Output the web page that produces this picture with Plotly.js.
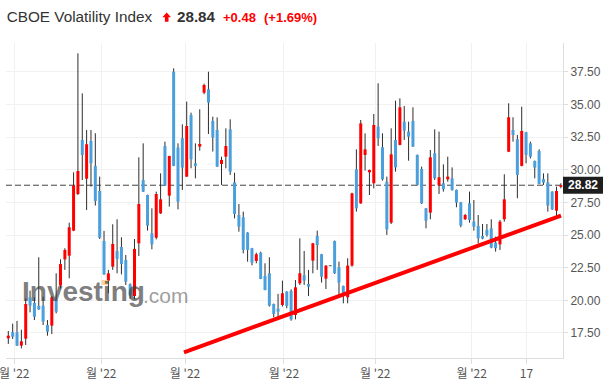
<!DOCTYPE html>
<html><head><meta charset="utf-8">
<script src="https://cdn.plot.ly/plotly-3.0.1.min.js"></script>
<style>html,body{margin:0;padding:0;background:#fff;}#chart{width:615px;height:389px;}</style>
</head><body><div id="chart"></div>
<script>
const openP = [17.09,17.55,17.55,16.53,17.06,20.23,19.80,19.57,19.59,18.11,
 18.06,20.08,21.13,23.14,23.42,25.34,28.15,32.29,29.32,32.21,
 30.30,28.38,24.55,21.51,22.58,23.78,24.09,23.09,21.23,20.33,
 24.37,29.22,28.07,25.14,24.80,26.67,31.83,28.02,37.52,31.70,
 32.42,29.48,34.20,30.50,31.78,35.91,36.17,33.75,33.05,30.45,
 31.01,33.10,29.04,26.54,26.36,25.19,23.99,23.02,23.65,21.87,
 22.07,19.72,19.36,19.64,20.67,20.72,18.88,21.30,21.92,21.25,
 23.04,24.93,23.53,21.66,22.66,24.55,22.53,21.10,20.23,22.66,
 30.04,27.43,31.14,29.81,28.97,33.31,31.73,29.09,25.95,32.29,
 31.91,33.69,32.93,33.75,31.14,30.07,27.05,26.72,31.27,28.81,
 28.97,29.27,29.35,28.46,27.51,26.21,27.43,26.03,25.70,24.93,
 25.39,25.52,24.42,24.29,26.21,31.39,33.05,32.34,30.30,32.88,
 32.03,30.68,31.44,29.30,29.04,28.33,26.87,28.69];
const highP = [17.65,18.21,18.42,17.75,20.15,20.74,20.23,23.30,20.28,18.49,
 20.33,22.07,23.14,23.99,25.95,29.81,38.93,35.86,33.05,33.05,
 32.80,29.48,25.32,22.33,25.83,26.21,24.83,23.47,21.30,24.70,
 30.96,32.03,28.10,27.05,28.33,29.73,32.16,31.08,37.78,32.03,
 33.49,35.23,34.38,32.03,34.64,36.60,37.52,34.07,34.02,31.01,
 33.18,33.87,29.78,27.38,26.80,25.22,24.02,23.65,23.73,22.84,
 23.30,19.75,20.49,21.51,20.70,20.85,21.56,24.75,23.78,22.33,
 24.40,25.34,23.56,22.69,22.70,24.58,22.96,21.13,23.22,28.25,
 31.57,33.82,32.80,30.02,34.28,36.63,32.80,29.48,33.18,35.30,
 35.48,34.89,33.69,34.79,31.17,30.25,27.08,31.52,33.10,32.93,
 30.42,31.01,30.19,28.49,27.54,26.62,28.33,27.69,26.54,25.85,
 25.85,26.21,24.88,26.16,29.66,35.10,34.03,32.67,34.84,32.91,
 32.16,30.71,31.57,29.73,29.73,28.36,28.71,28.97];
const lowP = [16.66,17.04,16.50,16.32,16.58,19.08,18.49,19.26,18.11,17.29,
 17.42,19.00,20.90,22.33,21.69,25.30,28.07,29.22,26.92,28.71,
 27.26,24.70,21.95,20.54,22.33,22.07,21.99,21.18,20.10,20.08,
 23.40,28.30,25.34,23.91,24.67,26.62,28.76,27.18,30.28,26.97,
 28.46,29.45,30.12,29.35,31.47,35.80,32.75,31.40,30.22,28.84,
 30.12,29.61,26.28,25.26,23.60,22.96,22.68,22.84,21.62,20.77,
 19.52,18.70,18.75,19.52,19.39,18.44,18.54,21.18,21.18,20.33,
 22.07,22.33,21.36,20.87,22.62,22.02,20.41,19.77,19.77,22.58,
 26.80,27.40,29.94,28.07,28.58,31.83,29.17,25.01,25.85,29.86,
 31.88,32.29,30.70,31.75,28.79,27.38,25.52,26.21,29.22,28.15,
 28.33,29.09,28.40,27.13,25.60,26.16,25.95,25.34,24.37,24.68,
 24.88,23.99,23.73,23.86,26.03,31.36,32.16,27.82,30.27,30.50,
 30.88,29.35,28.90,28.84,26.80,26.92,26.46,28.58];
const closeP = [17.29,17.22,16.53,16.86,19.72,19.59,18.75,19.31,18.37,17.60,
 20.23,19.13,22.78,23.86,25.60,28.81,29.91,31.14,31.96,30.50,
 27.61,24.80,21.99,22.07,24.32,23.17,22.79,21.43,20.38,23.94,
 27.38,28.33,25.72,24.29,28.15,27.74,28.79,31.06,30.30,27.56,
 30.17,33.36,30.81,30.30,31.98,36.50,35.15,32.47,30.25,30.76,
 31.83,29.86,26.62,25.65,23.86,23.86,22.89,23.53,21.64,20.79,
 19.59,18.95,19.13,20.54,19.57,18.54,21.00,22.07,21.51,21.05,
 24.37,24.24,21.81,22.66,22.66,22.07,21.36,20.54,22.66,28.20,
 27.05,33.56,31.57,29.99,33.44,32.42,29.27,25.44,31.19,30.19,
 34.79,33.00,32.54,31.78,28.84,27.43,26.11,30.96,29.35,29.43,
 28.51,29.48,28.46,27.49,25.72,26.54,26.16,25.65,24.75,24.73,
 25.01,24.04,23.99,26.03,27.74,34.03,32.67,29.61,32.98,31.14,
 31.01,30.17,28.92,29.02,27.26,26.97,28.38,28.82];
const xTickPositions = [1.38, 21.37, 40.61, 63.36, 84.35, 106.5, 119.1];
const xTickLabels = ["월 '22", "월 '22", "월 '22", "월 '22", "월 '22", "월 '22", "17"];
const trendX = [40.38, 127.03];
const trendY = [16.02, 26.49];
const headerName = 'CBOE Volatility Index';
const headerLast = '28.84';
const headerChange = '+0.48';
const headerPct = '(+1.69%)';

const UP = '#ff0000', DOWN = '#4a9fdc', WICK = '#2d2d2d';
const n = closeP.length;
const wx = [], wy = [], upX = [], upY = [], dnX = [], dnY = [], flX = [], flY = [];
for (let i = 0; i < n; i++) {
  wx.push(i, i, null); wy.push(lowP[i], highP[i], null);
  const o = openP[i], c = closeP[i];
  if (c > o) { upX.push(i, i, null); upY.push(o, c, null); }
  else if (c < o) { dnX.push(i, i, null); dnY.push(c, o, null); }
  else { flX.push(i, i, null); flY.push(o - 0.04, o + 0.04, null); }
}
const lastClose = closeP[n - 1];

const traces = [
  {type:'scatter', mode:'lines', x:wx, y:wy, line:{color:WICK, width:1}, hoverinfo:'skip'},
  {type:'scatter', mode:'lines', x:upX, y:upY, line:{color:UP, width:3}, hoverinfo:'skip'},
  {type:'scatter', mode:'lines', x:dnX, y:dnY, line:{color:DOWN, width:3}, hoverinfo:'skip'},
  {type:'scatter', mode:'lines', x:flX, y:flY, line:{color:'#777', width:3}, hoverinfo:'skip'},
  {type:'scatter', mode:'lines', x:trendX, y:trendY, line:{color:'#ff0000', width:4}, hoverinfo:'skip'}
];

const layout = {
  width:615, height:389,
  margin:{l:6, r:52, t:43, b:31},
  paper_bgcolor:'#fff', plot_bgcolor:'#fff',
  showlegend:false,
  title:{text:headerName, x:0.0109, xref:'container', xanchor:'left', y:0.957, yref:'container', yanchor:'middle',
         font:{family:'Arial, Liberation Sans, sans-serif', size:15.3, color:'#333'}},
  xaxis:{range:[-0.53,127.49], tickmode:'array', tickvals:xTickPositions, ticktext:xTickLabels,
         ticklabeloverflow:'allow',
         showgrid:true, gridcolor:'#f1f1f1', showline:true, linecolor:'#dedede', ticks:'outside', ticklen:5,
         tickcolor:'#dedede', tickfont:{family:"'Noto Sans CJK KR', Arial, sans-serif", size:12, color:'#555'},
         zeroline:false, fixedrange:true},
  yaxis:{side:'right', range:[15.58,39.72], tick0:0, dtick:2.5, tickformat:'.2f',
         showgrid:true, gridcolor:'#f1f1f1', showline:true, linecolor:'#dedede', ticks:'outside', ticklen:4,
         tickcolor:'#dedede', tickfont:{family:'Arial, Liberation Sans, sans-serif', size:12, color:'#555'},
         zeroline:false, fixedrange:true},
  shapes:[
    {type:'line', xref:'paper', x0:0, x1:1, yref:'y', y0:lastClose, y1:lastClose, layer:'below',
     line:{color:'#444', width:1, dash:'6px,3px'}},
    {type:'rect', xref:'paper', xsizemode:'pixel', xanchor:1, x0:0, x1:40,
     yref:'y', ysizemode:'pixel', yanchor:lastClose, y0:-8.5, y1:8.5, fillcolor:'#1e1e1e', line:{width:0}},
    {type:'path', xref:'paper', yref:'paper', xsizemode:'pixel', ysizemode:'pixel', xanchor:0, yanchor:1,
     path:'M156.4,25.8 L160.7,30.6 L165,25.8 L162.5,25.8 L162.5,21.3 L158.9,21.3 L158.9,25.8 Z',
     fillcolor:'#ff0000', line:{width:0}},
    {type:'rect', xref:'paper', yref:'paper', x0:0.1718, x1:0.1837, y0:0.2317, y1:0.2476,
     fillcolor:'rgba(250,190,100,0.65)', line:{width:0}}
  ],
  annotations:[
    {xref:'paper', yref:'paper', x:0.0248, y:0.211, xanchor:'left', yanchor:'middle', showarrow:false,
     text:'<b>Investing</b>', font:{family:'Arial, Liberation Sans, sans-serif', size:28, color:'rgba(60,60,60,0.68)'}},
    {xref:'paper', yref:'paper', x:0.2424, y:0.197, xanchor:'left', yanchor:'middle', showarrow:false,
     text:'.com', font:{family:'Arial, Liberation Sans, sans-serif', size:21, color:'rgba(60,60,60,0.5)'}},
    {xref:'paper', yref:'y', x:1, y:lastClose, xanchor:'center', xshift:20, yanchor:'middle', showarrow:false,
     text:'<b>'+lastClose.toFixed(2)+'</b>', font:{family:'Arial, Liberation Sans, sans-serif', size:12, color:'#fff'}},
    {xref:'paper', yref:'paper', x:0.3034, y:1.0848, xanchor:'left', yanchor:'middle', showarrow:false,
     text:'<b>'+headerLast+'</b>', font:{family:'Arial, Liberation Sans, sans-serif', size:15.2, color:'#333'}},
    {xref:'paper', yref:'paper', x:0.386, y:1.0819, xanchor:'left', yanchor:'middle', showarrow:false,
     text:'<b>'+headerChange+'</b>', font:{family:'Arial, Liberation Sans, sans-serif', size:13, color:'#ff0000'}},
    {xref:'paper', yref:'paper', x:0.4596, y:1.0819, xanchor:'left', yanchor:'middle', showarrow:false,
     text:'<b>'+headerPct+'</b>', font:{family:'Arial, Liberation Sans, sans-serif', size:13, color:'#ff0000'}}
  ]
};
Plotly.newPlot('chart', traces, layout, {displayModeBar:false, staticPlot:true});
</script></body></html>
